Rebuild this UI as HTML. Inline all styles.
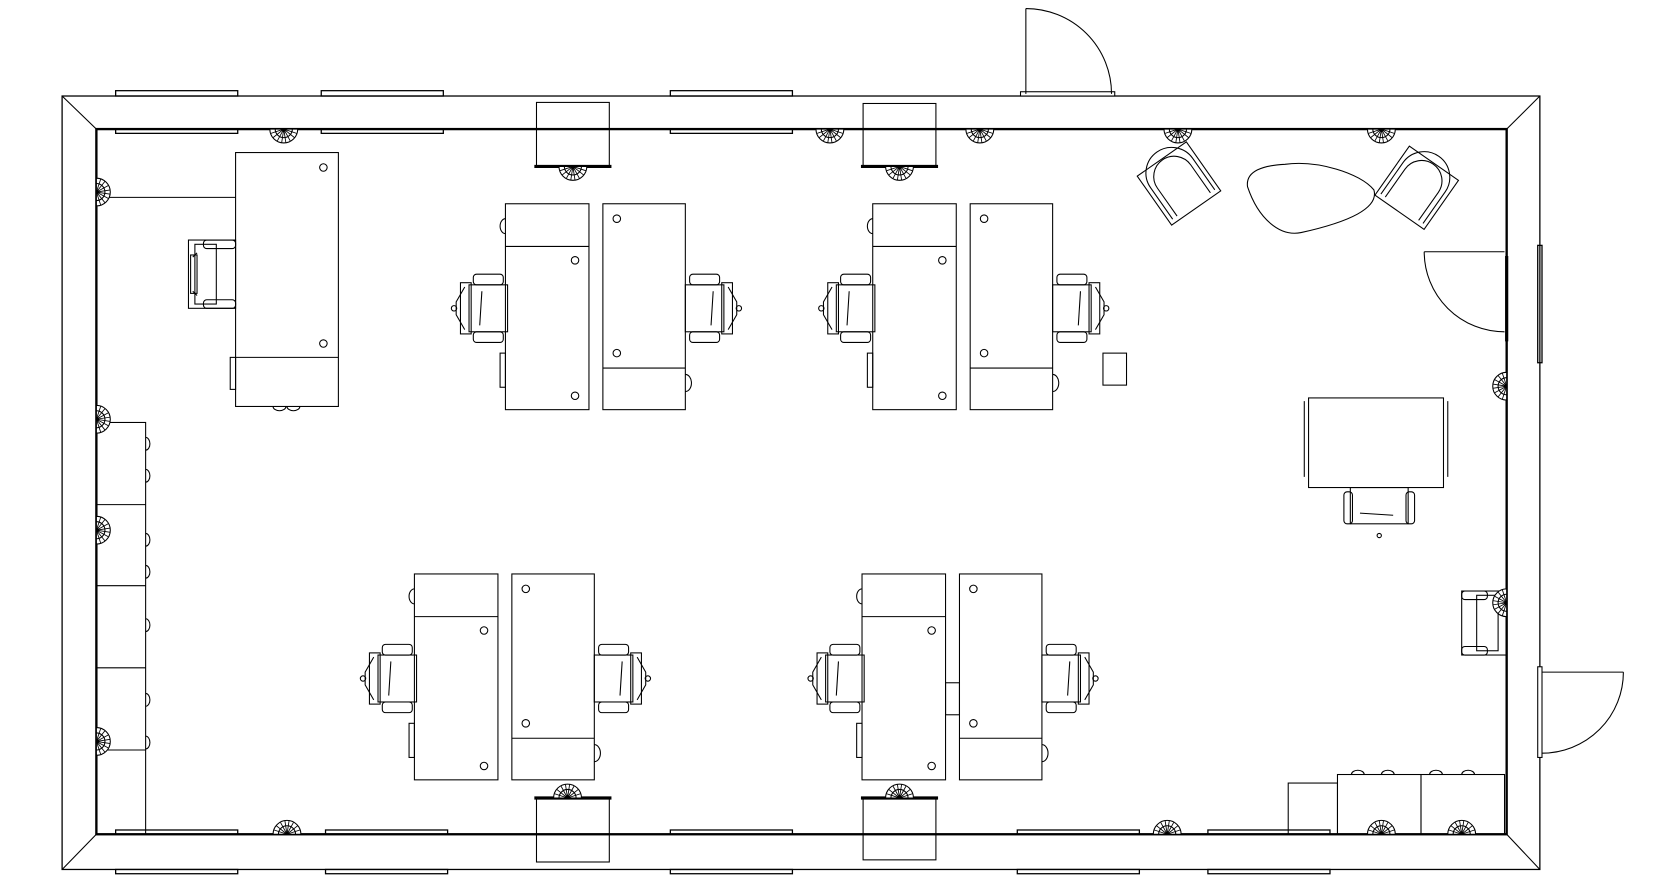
<!DOCTYPE html>
<html><head><meta charset="utf-8"><style>html,body{margin:0;padding:0;background:#fff}svg{display:block}</style></head>
<body>
<svg width="1678" height="894" viewBox="0 0 1567 838" preserveAspectRatio="none" xmlns="http://www.w3.org/2000/svg" fill="none" stroke="#000" stroke-width="1">
<defs>
  <g id="fan">
    <path d="M-13 0 A13 13 0 0 0 13 0 Z" fill="#fff"/>
    <path d="M0 0L-12 4M0 0L-10 8M0 0L-6 11M0 0L-2 13M0 0L2 13M0 0L6 11M0 0L10 8M0 0L12 4" stroke-width="0.8"/>
    <path d="M-8 0 A8 8 0 0 0 8 0"/>
  </g>
  <g id="chair">
    <rect x="-2" y="8" width="10" height="48"/>
    <path d="M2 12 L-6 26 L-6 38 L2 52"/>
    <circle cx="-8" cy="32" r="2.5"/>
    <rect x="6" y="10" width="36" height="44"/>
    <rect x="10" y="0" width="28" height="10" rx="3"/>
    <rect x="10" y="54" width="28" height="10" rx="3"/>
    <line x1="18" y1="16" x2="16" y2="48"/>
  </g>
  <g id="cluster">
    <rect x="0" y="0" width="78" height="193" fill="#fff"/>
    <line x1="0" y1="40" x2="78" y2="40"/>
    <circle cx="65" cy="53" r="3.5"/><circle cx="65" cy="180" r="3.5"/>
    <rect x="-5" y="140" width="5" height="32"/>
    <path d="M0 14 A5 7 0 0 0 0 28"/>
    <rect x="91" y="0" width="77" height="193" fill="#fff"/>
    <line x1="91" y1="154" x2="168" y2="154"/>
    <circle cx="104" cy="14" r="3.5"/><circle cx="104" cy="140" r="3.5"/>
    <path d="M168 160 A5 7 0 0 1 168 176"/>
    <use href="#chair" x="-40" y="66"/>
    <use href="#chair" transform="translate(210,130) rotate(180)"/>
  </g>
</defs>

<rect x="58" y="90" width="1380" height="725" stroke-width="1.2"/>
<rect x="90" y="121" width="1317" height="661" stroke-width="2.2"/>
<line x1="58" y1="90" x2="90" y2="121"/><line x1="1438" y1="90" x2="1407" y2="121"/>
<line x1="58" y1="815" x2="90" y2="782"/><line x1="1438" y1="815" x2="1407" y2="782"/>
<g stroke-width="1.2">
<rect x="108" y="85" width="114" height="5"/><rect x="300" y="85" width="114" height="5"/><rect x="626" y="85" width="114" height="5"/>
<rect x="108" y="121" width="114" height="4"/><rect x="300" y="121" width="114" height="4"/><rect x="626" y="121" width="114" height="4"/>
<rect x="108" y="778" width="114" height="4"/><rect x="304" y="778" width="114" height="4"/><rect x="626" y="778" width="114" height="4"/><rect x="950" y="778" width="114" height="4"/><rect x="1128" y="778" width="114" height="4"/>
<rect x="108" y="815" width="114" height="4"/><rect x="304" y="815" width="114" height="4"/><rect x="626" y="815" width="114" height="4"/><rect x="950" y="815" width="114" height="4"/><rect x="1128" y="815" width="114" height="4"/>
<line x1="1407" y1="240" x2="1407" y2="320" stroke-width="3"/>
<rect x="1436" y="230" width="4" height="110"/>
</g>
<rect x="953" y="86" width="88" height="4" fill="#fff"/>
<line x1="958" y1="8" x2="958" y2="88"/>
<path d="M958 8 A80 80 0 0 1 1038 88"/>
<line x1="1330" y1="236" x2="1405" y2="236"/>
<path d="M1330 236 A75 75 0 0 0 1405 311"/>
<line x1="1440" y1="630" x2="1516" y2="630"/>
<path d="M1516 630 A76 76 0 0 1 1440 706"/>
<rect x="1436" y="625" width="4" height="85" fill="#fff"/>

<rect x="501" y="96" width="68" height="60"/><line x1="501" y1="121" x2="569" y2="121"/><line x1="499" y1="156" x2="571" y2="156" stroke-width="3"/>
<rect x="806" y="97" width="68" height="59"/><line x1="806" y1="121" x2="874" y2="121"/><line x1="804" y1="156" x2="876" y2="156" stroke-width="3"/>
<rect x="501" y="748" width="68" height="60"/><line x1="501" y1="782" x2="569" y2="782"/><line x1="499" y1="748" x2="571" y2="748" stroke-width="3"/>
<rect x="806" y="748" width="68" height="58"/><line x1="806" y1="782" x2="874" y2="782"/><line x1="804" y1="748" x2="876" y2="748" stroke-width="3"/>

<rect x="90" y="396" width="46" height="386"/>
<line x1="90" y1="473" x2="136" y2="473"/><line x1="90" y1="549" x2="136" y2="549"/><line x1="90" y1="626" x2="136" y2="626"/><line x1="90" y1="703" x2="136" y2="703"/>
<path d="M136 410 a4 6 0 0 1 0 12M136 440 a4 6 0 0 1 0 12M136 500 a4 6 0 0 1 0 12M136 530 a4 6 0 0 1 0 12M136 580 a4 6 0 0 1 0 12M136 650 a4 6 0 0 1 0 12M136 690 a4 6 0 0 1 0 12"/>
<line x1="92" y1="185" x2="220" y2="185"/>

<rect x="220" y="143" width="96" height="238" fill="#fff"/>
<line x1="220" y1="335" x2="316" y2="335"/>
<circle cx="302" cy="157" r="3.5"/><circle cx="302" cy="322" r="3.5"/>
<rect x="215" y="335" width="5" height="30"/>
<path d="M255 381 a6 4 0 0 0 12 0M268 381 a6 4 0 0 0 12 0"/>
<g transform="translate(176,225)">
<rect x="0" y="0" width="44" height="64"/>
<rect x="6" y="4" width="20" height="56"/>
<rect x="14" y="0" width="30" height="8" rx="3"/><rect x="14" y="56" width="30" height="8" rx="3"/>
<path d="M4 16 L8 12 M4 48 L8 52"/><rect x="2" y="14" width="6" height="36"/>
</g>

<use href="#cluster" x="472" y="191"/>
<use href="#cluster" x="815" y="191"/>
<use href="#cluster" x="387" y="538"/>
<use href="#cluster" x="805" y="538"/>
<rect x="883" y="640" width="13" height="30"/>

<rect x="1030" y="331" width="22" height="30"/>

<g transform="translate(1101,172) rotate(-35)">
<rect x="-28" y="-28" width="56" height="56" fill="#fff"/>
<path d="M-24 -12 A24 24 0 0 1 24 -12 L24 24 M-24 -12 L-24 24"/><path d="M-19 -8 A19 19 0 0 1 19 -8 L19 24 M-19 -8 L-19 24"/>
</g>
<g transform="translate(1323,176) rotate(35)">
<rect x="-28" y="-28" width="56" height="56" fill="#fff"/>
<path d="M-24 -12 A24 24 0 0 1 24 -12 L24 24 M-24 -12 L-24 24"/><path d="M-19 -8 A19 19 0 0 1 19 -8 L19 24 M-19 -8 L-19 24"/>
</g>
<path d="M1200 154 C1230 150 1270 162 1283 178 C1288 195 1260 208 1215 218 C1195 222 1175 205 1165 175 C1163 160 1180 155 1200 154 Z"/>

<rect x="1222" y="373" width="126" height="84" fill="#fff"/>
<line x1="1218" y1="376" x2="1218" y2="447"/><line x1="1352" y1="376" x2="1352" y2="447"/>
<g transform="translate(1255,457)">
<rect x="6" y="0" width="54" height="34"/><rect x="0" y="4" width="8" height="30" rx="3"/><rect x="58" y="4" width="8" height="30" rx="3"/>
<line x1="15" y1="24" x2="46" y2="26"/><circle cx="33" cy="45" r="2"/>
</g>
<g transform="translate(1407,614) rotate(180)">
<rect x="0" y="0" width="42" height="60"/><rect x="8" y="4" width="20" height="52"/>
<rect x="18" y="0" width="24" height="8" rx="3"/><rect x="18" y="52" width="24" height="8" rx="3"/>
</g>
<rect x="1203" y="734" width="46" height="48"/>
<rect x="1249" y="726" width="78" height="56"/><rect x="1327" y="726" width="78" height="56"/>
<path d="M1262 726 a6 4 0 0 1 12 0M1290 726 a6 4 0 0 1 12 0M1335 726 a6 4 0 0 1 12 0M1365 726 a6 4 0 0 1 12 0"/>

<use href="#fan" transform="translate(265,121)"/>
<use href="#fan" transform="translate(535,156)"/>
<use href="#fan" transform="translate(775,121)"/>
<use href="#fan" transform="translate(840,156)"/>
<use href="#fan" transform="translate(915,121)"/>
<use href="#fan" transform="translate(1100,121)"/>
<use href="#fan" transform="translate(1290,121)"/>
<use href="#fan" transform="translate(90,180) rotate(-90)"/>
<use href="#fan" transform="translate(90,393) rotate(-90)"/>
<use href="#fan" transform="translate(90,497) rotate(-90)"/>
<use href="#fan" transform="translate(90,695) rotate(-90)"/>
<use href="#fan" transform="translate(268,782) rotate(180)"/>
<use href="#fan" transform="translate(530,748) rotate(180)"/>
<use href="#fan" transform="translate(840,748) rotate(180)"/>
<use href="#fan" transform="translate(1090,782) rotate(180)"/>
<use href="#fan" transform="translate(1290,782) rotate(180)"/>
<use href="#fan" transform="translate(1365,782) rotate(180)"/>
<use href="#fan" transform="translate(1407,362) rotate(90)"/>
<use href="#fan" transform="translate(1407,565) rotate(90)"/>
</svg>
</body></html>
